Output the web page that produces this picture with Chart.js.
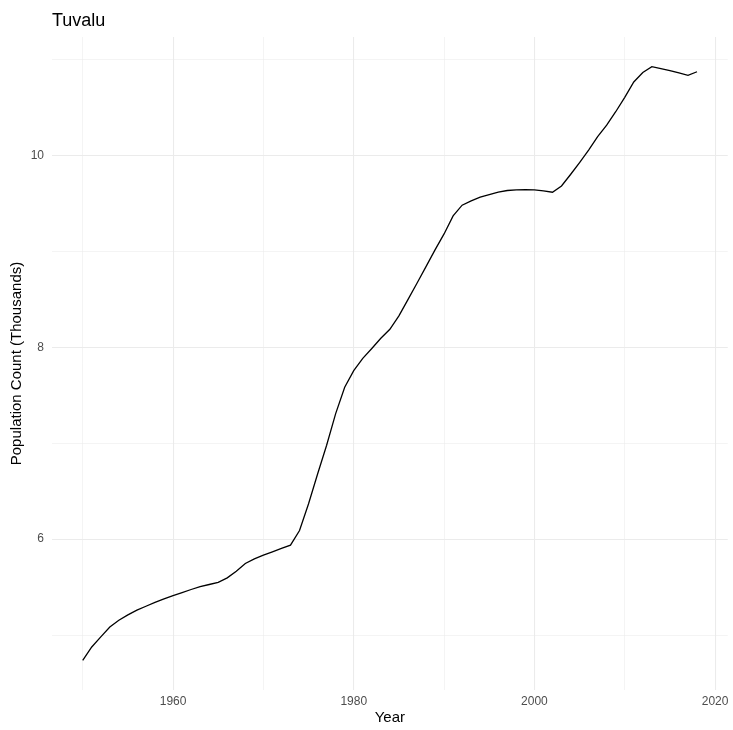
<!DOCTYPE html>
<html>
<head>
<meta charset="utf-8">
<script src="https://cdn.jsdelivr.net/npm/chart.js@4/dist/chart.umd.min.js"></script>
<style>
  html, body { margin: 0; padding: 0; background: #ffffff; }
  #wrap { width: 733px; height: 730px; }
</style>
</head>
<body>
<div id="wrap"><canvas id="c" width="733" height="730"></canvas></div>
<script>
const chartTitle = "Tuvalu";
const xAxisTitle = "Year";
const yAxisTitle = "Population Count (Thousands)";

const years = [
  1950, 1951, 1952, 1953, 1954, 1955, 1956, 1957, 1958, 1959,
  1960, 1961, 1962, 1963, 1964, 1965, 1966, 1967, 1968, 1969,
  1970, 1971, 1972, 1973, 1974, 1975, 1976, 1977, 1978, 1979,
  1980, 1981, 1982, 1983, 1984, 1985, 1986, 1987, 1988, 1989,
  1990, 1991, 1992, 1993, 1994, 1995, 1996, 1997, 1998, 1999,
  2000, 2001, 2002, 2003, 2004, 2005, 2006, 2007, 2008, 2009,
  2010, 2011, 2012, 2013, 2014, 2015, 2016, 2017, 2018
];
const population = [
  4.736, 4.875, 4.980, 5.084, 5.154, 5.210, 5.260, 5.300, 5.340, 5.377,
  5.412, 5.443, 5.475, 5.506, 5.527, 5.550, 5.596, 5.666, 5.746, 5.795,
  5.833, 5.868, 5.903, 5.937, 6.090, 6.370, 6.680, 6.980, 7.310, 7.585,
  7.758, 7.887, 7.990, 8.096, 8.190, 8.330, 8.500, 8.670, 8.844, 9.018,
  9.185, 9.373, 9.485, 9.530, 9.568, 9.596, 9.620, 9.638, 9.645, 9.648,
  9.645, 9.634, 9.620, 9.685, 9.805, 9.930, 10.060, 10.200, 10.320, 10.460,
  10.610, 10.770, 10.870, 10.930, 10.910, 10.890, 10.865, 10.840, 10.877
];

const xGridValues = [1950, 1960, 1970, 1980, 1990, 2000, 2010, 2020];
const xTickLabels = [1960, 1980, 2000, 2020];
const yGridValues = [5, 6, 7, 8, 9, 10, 11];
const yTickLabels = [6, 8, 10];

// ggplot-style 5% expansion of the data range
const xMinData = Math.min(...years), xMaxData = Math.max(...years);
const yMinData = Math.min(...population), yMaxData = Math.max(...population);
const xPad = (xMaxData - xMinData) * 0.05;
const yPad = (yMaxData - yMinData) * 0.05;

const FONT = "'Liberation Sans', Arial, Helvetica, sans-serif";

const titlePlugin = {
  id: 'ggTitle',
  afterDraw(chart) {
    const ctx = chart.ctx;
    ctx.save();
    ctx.fillStyle = '#000000';
    ctx.font = '18px ' + FONT;
    ctx.textAlign = 'left';
    ctx.textBaseline = 'alphabetic';
    ctx.fillText(chartTitle, chart.chartArea.left, 25.5);
    ctx.restore();
  }
};

const gridWidth = (ctx, majors) => (majors.includes(ctx.tick.value) ? 1.07 : 0.53);

new Chart(document.getElementById('c'), {
  type: 'line',
  data: {
    datasets: [{
      data: years.map((y, i) => ({ x: y, y: population[i] })),
      borderColor: '#000000',
      borderWidth: 1.3,
      pointRadius: 0,
      tension: 0,
      fill: false
    }]
  },
  options: {
    responsive: false,
    animation: false,
    devicePixelRatio: 1,
    layout: { padding: { top: 37, right: 3.6, left: 0, bottom: 0 } },
    plugins: { legend: { display: false }, tooltip: { enabled: false }, title: { display: false } },
    scales: {
      x: {
        type: 'linear',
        min: xMinData - xPad,
        max: xMaxData + xPad,
        afterBuildTicks: (s) => { s.ticks = xGridValues.map(v => ({ value: v })); },
        afterFit: (s) => { s.height = 40; },
        border: { display: false },
        grid: {
          color: '#EBEBEB',
          lineWidth: (ctx) => gridWidth(ctx, xTickLabels),
          drawTicks: false
        },
        ticks: {
          autoSkip: false,
          maxRotation: 0,
          padding: 4.5,
          color: '#4D4D4D',
          font: { family: FONT, size: 12 },
          callback: (v) => (xTickLabels.includes(v) ? String(v) : '')
        },
        title: {
          display: true,
          text: xAxisTitle,
          color: '#000000',
          font: { family: FONT, size: 15 },
          padding: { top: 0, bottom: 3 }
        }
      },
      y: {
        type: 'linear',
        min: yMinData - yPad,
        max: yMaxData + yPad,
        afterBuildTicks: (s) => { s.ticks = yGridValues.map(v => ({ value: v })); },
        afterFit: (s) => { s.width = 52; },
        border: { display: false },
        grid: {
          color: '#EBEBEB',
          lineWidth: (ctx) => gridWidth(ctx, yTickLabels),
          drawTicks: false
        },
        ticks: {
          autoSkip: false,
          padding: 8,
          color: '#4D4D4D',
          font: { family: FONT, size: 12 },
          callback: (v) => (yTickLabels.includes(v) ? String(v) : '')
        },
        title: {
          display: true,
          text: yAxisTitle,
          color: '#000000',
          font: { family: FONT, size: 15 },
          padding: { top: 8, bottom: 0 }
        }
      }
    }
  },
  plugins: [titlePlugin]
});
</script>
</body>
</html>
